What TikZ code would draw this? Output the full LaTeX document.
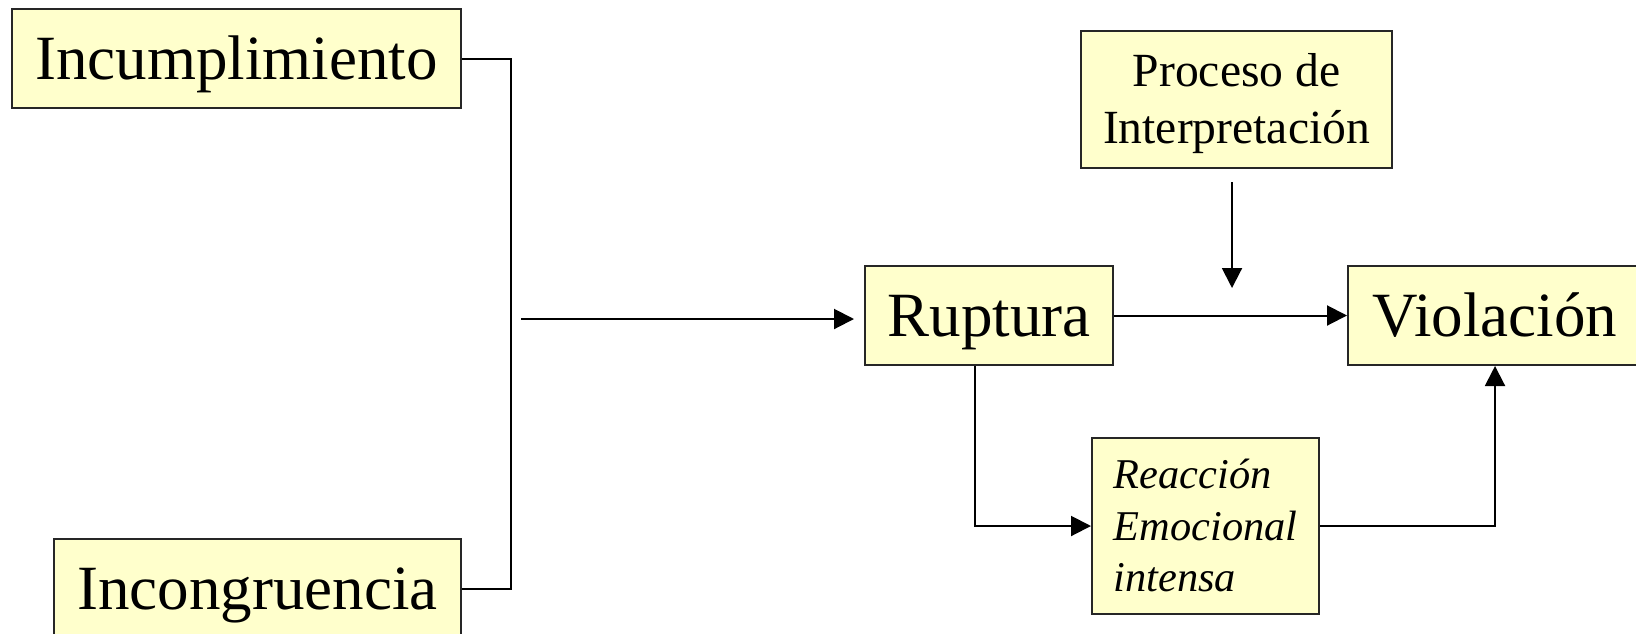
\documentclass[tikz,border=0pt]{standalone}
\usepackage{fontspec}
\setmainfont{Liberation Serif}
\usetikzlibrary{arrows.meta}
\definecolor{boxfill}{HTML}{FFFFCC}
\newcommand\topstrut{\rule{0pt}{0.891em}}
\newcommand\botstrut{\rule[-0.216em]{0pt}{0pt}}
\tikzset{
  box/.style={draw=black!85, fill=boxfill, line width=1pt, inner sep=0pt},
  bigtext/.style={font=\fontsize{31.5pt}{37.8pt}\selectfont, text height=28.07pt, text depth=6.8pt},
  link/.style={line width=1pt, draw=black},
  arr/.style={link, -{Triangle[length=10pt,width=10pt]}}
}
\begin{document}
\begin{tikzpicture}[x=0.5pt, y=-0.5pt]
\useasboundingbox (0,0) rectangle (1636,633);

% causes on the left
\node[box, bigtext, minimum width=224.5pt, minimum height=49.5pt] (inc) at (236.5,58.5) {Incumplimiento};
\node[box, bigtext, minimum width=203.5pt, minimum height=49.5pt] (incg) at (257.5,588.5) {Incongruencia};

% main chain
\node[box, bigtext, minimum width=124pt, minimum height=49.5pt] (rup) at (989,315.5) {Ruptura};
\node[box, bigtext, minimum width=147pt, minimum height=49.5pt] (vio) at (1495,315.5) {Violación};

% interpretation and emotional reaction
\node[box, minimum width=155.5pt, minimum height=68.5pt, align=center,
      font=\fontsize{23.8pt}{28.5pt}\selectfont] (proc) at (1236.5,99)
      {\topstrut Proceso de\\Interpretación\botstrut};
\node[box, minimum width=113.5pt, minimum height=88pt, align=left,
      font=\fontsize{21.2pt}{25.75pt}\selectfont\itshape] (reac) at (1205.5,526)
      {\topstrut Reacción\\Emocional\\intensa\botstrut};

% bracket joining both causes
\draw[link] (inc.east) -- ++(49,0) |- (incg.east);

% free-standing arrows
\coordinate (inS) at (521,319);
\coordinate (inE) at (854,319);
\draw[arr] (inS) -- (inE);

\coordinate (prS) at (1232,182);
\coordinate (prE) at (1232,288);
\draw[arr] (prS) -- (prE);

% connections between boxes
\draw[arr] (rup.east) -- (vio.west);
\draw[arr] ([xshift=-7pt]rup.south) |- (reac.west);
\draw[arr] (reac.east) -| (vio.south);
\end{tikzpicture}
\end{document}
